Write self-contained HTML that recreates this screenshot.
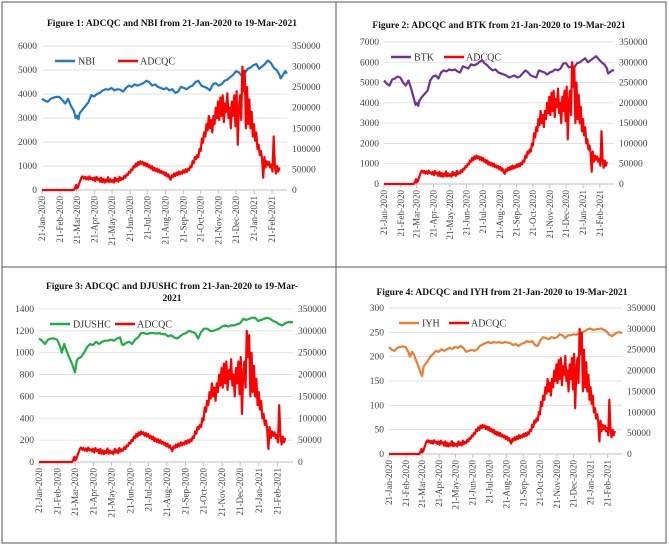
<!DOCTYPE html>
<html><head><meta charset="utf-8">
<style>
html,body{margin:0;padding:0;background:#fff;}
svg{display:block;font-family:"Liberation Serif",serif;}
</style></head>
<body>
<svg id="fig" width="669" height="548" viewBox="0 0 669 548" xmlns="http://www.w3.org/2000/svg">
<rect x="2" y="2" width="664" height="541" fill="none" stroke="#555" stroke-width="1"/>
<line x1="336" y1="2" x2="336" y2="543" stroke="#555"/>
<line x1="2" y1="267" x2="666" y2="267" stroke="#555"/>
</svg>
<script>
// shared x categories (day offsets from 21-Jan-2020) and tick labels
const tickLabels = ["21-Jan-2020","21-Feb-2020","21-Mar-2020","21-Apr-2020","21-May-2020","21-Jun-2020","21-Jul-2020","21-Aug-2020","21-Sep-2020","21-Oct-2020","21-Nov-2020","21-Dec-2020","21-Jan-2021","21-Feb-2021"];
const tickDays = [0,31,60,91,121,152,182,213,244,274,305,335,366,397];
const endDay = 423;
// ADCQC series (day, value)
const adcqcDays = [0,55,57,59,60,61,62,64,66,68,70,72,74,76,78,80,82,84,86,88,90,92,94,96,98,100,102,104,106,108,110,112,114,116,118,120,122,124,126,128,130,132,134,136,138,140,142,144,146,148,150,152,154,156,158,160,162,164,166,168,170,172,174,176,178,180,182,184,186,188,190,192,194,196,198,200,202,204,206,208,210,212,214,216,218,220,222,224,226,228,230,232,234,236,238,240,242,244,246,248,250,252,254,256,258,260,262,264,266,268,270,272,274,276,278,280,282,284,286,288,290,292,294,296,298,300,302,304,306,308,310,312,314,316,318,320,322,324,326,328,330,332,334,336,338,340,342,344,346,348,350,352,354,356,358,360,362,364,366,368,370,372,374,376,378,380,382,384,386,388,390,392,394,396,398,400,402,404,406,408,410,412,414,415,416,418,420,422,423];
const adcqcVals = [0,0,5000,12000,4000,10000,6000,15000,22000,30000,33000,28000,32000,26000,31000,25000,33000,27000,29000,24000,30000,22000,32000,25000,28000,20000,30000,19000,27000,18000,25000,20000,31000,19000,26000,20000,24000,18000,30000,22000,27000,20000,32000,24000,29000,26000,34000,30000,38000,36000,44000,42000,50000,48000,58000,55000,64000,58000,68000,62000,70000,64000,68000,60000,66000,58000,64000,55000,60000,52000,58000,48000,54000,46000,52000,44000,50000,42000,46000,40000,44000,36000,42000,33000,38000,30000,25000,36000,32000,40000,34000,42000,36000,45000,38000,44000,40000,48000,42000,50000,44000,52000,48000,58000,55000,70000,65000,80000,75000,85000,80000,100000,95000,125000,115000,140000,130000,160000,145000,180000,150000,170000,140000,180000,160000,200000,175000,215000,170000,225000,180000,230000,165000,210000,190000,235000,175000,200000,150000,215000,180000,230000,155000,240000,110000,200000,230000,170000,300000,240000,290000,150000,250000,160000,220000,150000,190000,130000,160000,120000,140000,100000,110000,85000,95000,75000,30000,80000,55000,70000,60000,68000,55000,62000,45000,130000,60000,40000,58000,45000,55000];
const panels = [
 {title:["Figure 1: ADCQC and NBI from 21-Jan-2020 to 19-Mar-2021"], ty:[26], tx:172, L:42,R:287,B:190,T:46, lmax:6000, lstep:1000, name:"NBI", color:"#1f78c8", lx:55, off:63,
  days:[0,5,10,15,20,25,30,35,40,45,50,55,58,60,63,65,70,75,80,85,90,95,100,105,110,115,120,125,130,135,140,145,150,155,160,165,170,175,180,185,190,195,200,205,210,215,220,225,230,235,240,245,250,255,260,265,270,275,280,285,290,295,300,305,310,315,320,325,330,335,340,345,350,355,360,365,370,375,380,385,390,395,400,405,410,412,415,420,423],
  vals:[3800,3720,3680,3800,3850,3880,3880,3750,3600,3800,3500,3300,3000,3100,2950,3200,3350,3500,3650,3950,3900,4000,4050,4150,4200,4180,4250,4150,4200,4180,4100,4250,4350,4300,4400,4350,4400,4450,4550,4500,4350,4400,4300,4250,4200,4250,4150,4200,4050,4100,4300,4250,4200,4300,4350,4500,4550,4350,4300,4250,4150,4400,4450,4350,4400,4550,4600,4700,4800,4950,4900,4750,4850,5050,5100,5200,5250,5050,5150,5250,5400,5300,5100,5000,4800,4650,4750,4950,4850]},
 {title:["Figure 2: ADCQC and BTK from 21-Jan-2020 to 19-Mar-2021"], ty:[28], tx:499, L:384,R:614,B:184,T:42, lmax:7000, lstep:1000, name:"BTK", color:"#7030a0", lx:391, off:53,
  days:[0,5,10,15,20,25,30,35,40,45,50,55,58,60,63,65,70,75,80,85,90,95,100,105,110,115,120,125,130,135,140,145,150,155,160,165,170,175,180,185,190,195,200,205,210,215,220,225,230,235,240,245,250,255,260,265,270,275,280,285,290,295,300,305,310,315,320,325,330,335,340,345,350,355,360,365,370,375,380,385,390,395,400,405,410,412,415,420,423],
  vals:[5100,4950,4850,5150,5200,5300,5250,5000,4850,5100,4700,4200,3900,4000,3850,4100,4300,4450,4600,5100,5300,5350,5200,5500,5600,5550,5650,5600,5650,5550,5500,5800,5750,5700,5900,5850,5900,6000,6100,5950,5850,5700,5600,5650,5500,5450,5400,5350,5250,5300,5350,5250,5300,5450,5600,5500,5350,5300,5250,5600,5550,5500,5400,5500,5550,5650,5600,5700,5950,5950,5750,5800,5750,5950,6000,6100,6200,6000,6100,6200,6300,6150,6000,5900,5700,5450,5500,5600,5600]},
 {title:["Figure 3: ADCQC and DJUSHC from 21-Jan-2020 to 19-Mar-","2021"], ty:[289,301], tx:172, L:39,R:293,B:462,T:309, lmax:1400, lstep:200, name:"DJUSHC", color:"#1fad45", lx:50, off:65,
  days:[0,5,10,15,20,25,30,35,38,42,45,50,55,58,60,63,66,70,75,80,85,90,95,100,105,110,115,120,125,130,135,138,140,145,150,155,160,165,170,175,180,185,190,195,200,205,210,215,220,225,230,235,240,245,250,255,260,265,270,275,280,285,290,295,300,305,310,315,320,325,330,335,340,345,350,355,360,365,370,375,380,385,390,395,400,405,410,415,420,423],
  vals:[1130,1110,1080,1120,1130,1130,1120,1060,1000,1080,1030,960,900,850,820,930,950,960,1000,1050,1080,1070,1100,1080,1100,1110,1110,1120,1110,1130,1140,1080,1070,1090,1100,1080,1120,1140,1180,1180,1170,1180,1180,1175,1180,1170,1170,1150,1160,1140,1130,1150,1170,1180,1200,1190,1180,1130,1190,1220,1220,1200,1200,1210,1220,1240,1250,1240,1250,1250,1260,1270,1310,1300,1310,1320,1320,1290,1300,1310,1320,1310,1290,1280,1260,1250,1270,1280,1280,1280]},
 {title:["Figure 4: ADCQC and IYH from 21-Jan-2020 to 19-Mar-2021"], ty:[295], tx:502, L:389,R:622,B:454,T:308, lmax:300, lstep:50, name:"IYH", color:"#ed7d31", lx:399, off:50,
  days:[0,5,10,15,20,25,30,35,38,42,45,50,55,58,60,63,66,70,75,80,85,90,95,100,105,110,115,120,125,130,135,140,145,150,155,160,165,170,175,180,185,190,195,200,205,210,215,220,225,230,235,240,245,250,255,260,265,270,275,280,285,290,295,300,305,310,315,320,325,330,335,340,345,350,355,360,365,370,375,380,385,390,395,400,405,410,415,420,423],
  vals:[220,214,212,218,220,221,220,210,200,210,205,190,175,165,160,180,185,190,200,205,212,210,215,212,215,218,216,220,218,222,218,210,212,214,212,215,222,225,228,230,228,230,229,230,228,230,229,228,224,226,222,226,228,232,230,232,224,222,234,240,238,236,240,238,240,246,244,238,244,244,246,245,248,250,252,256,258,255,256,257,258,255,252,245,242,247,250,250,248]}
];
const svg = document.getElementById('fig');
const NS = "http://www.w3.org/2000/svg";
function mk(tag, attrs, parent){const e=document.createElementNS(NS,tag);for(const k in attrs)e.setAttribute(k,attrs[k]);(parent||svg).appendChild(e);return e;}
panels.forEach((p,pi)=>{
  const g = mk('g',{});
  
  
  const xs = d => p.L + (p.R-p.L)*d/endDay;
  const yl = v => p.B - (p.B-p.T)*v/p.lmax;
  const yr = v => p.B - (p.B-p.T)*v/350000;
  p.title.forEach((t,i)=>{
    const e = mk('text',{x:p.tx,y:p.ty[i],'text-anchor':'middle','font-size':'9.5','font-weight':'bold',fill:'#111'},g);
    e.textContent = t;
    
    
  });
  for(let v=0; v<=p.lmax; v+=p.lstep){
    if(v>0){const gl = mk('line',{x1:p.L,x2:p.R,y1:yl(v),y2:yl(v),stroke:'#d9d9d9','stroke-width':0.8},g);
    
    }
    const t = mk('text',{x:p.L-5,y:yl(v)+3,'text-anchor':'end','font-size':'9.5',fill:'#444'},g);
    t.textContent = v;
    
    
  }
  for(let v=0; v<=350000; v+=50000){
    const t = mk('text',{x:p.R+5,y:yr(v)+3,'text-anchor':'start','font-size':'9.5',fill:'#444'},g);
    t.textContent = v;
    
    
  }
  const ax = mk('line',{x1:p.L,x2:p.R,y1:p.B,y2:p.B,stroke:'#bfbfbf','stroke-width':1},g);
  
  
  tickDays.forEach((d,i)=>{
    const x = xs(d);
    mk('line',{x1:x,x2:x,y1:p.B,y2:p.B+4,stroke:'#bfbfbf'},g);
    const t = mk('text',{x:0,y:0,transform:`translate(${x+3},${p.B+6}) rotate(-90)`,'text-anchor':'end','font-size':'9',fill:'#444'},g);
    t.textContent = tickLabels[i];
    
    
  });
  const s1 = mk('polyline',{points:p.days.map((d,i)=>xs(d)+','+yl(p.vals[i])).join(' '),fill:'none',stroke:p.color,'stroke-width':2.2,'stroke-linejoin':'round'},g);
  
  
  const s2 = mk('polyline',{points:adcqcDays.map((d,i)=>xs(d)+','+yr(adcqcVals[i])).join(' '),fill:'none',stroke:'#ff0000','stroke-width':2.2,'stroke-linejoin':'round'},g);
  
  
  // legend
  const ly = p.T + 15, lx = p.lx;
  const e1 = mk('line',{x1:lx,x2:lx+20,y1:ly,y2:ly,stroke:p.color,'stroke-width':2.5},g);
  
  
  const t1 = mk('text',{x:lx+23,y:ly+3.5,'font-size':'10',fill:'#333'},g); t1.textContent=p.name;
  
  
  const lx2 = lx + p.off;
  const e2 = mk('line',{x1:lx2,x2:lx2+20,y1:ly,y2:ly,stroke:'#ff0000','stroke-width':2.5},g);
  
  
  const t2 = mk('text',{x:lx2+22,y:ly+3.5,'font-size':'10',fill:'#333'},g); t2.textContent='ADCQC';
  
  
});
</script>
</body></html>
